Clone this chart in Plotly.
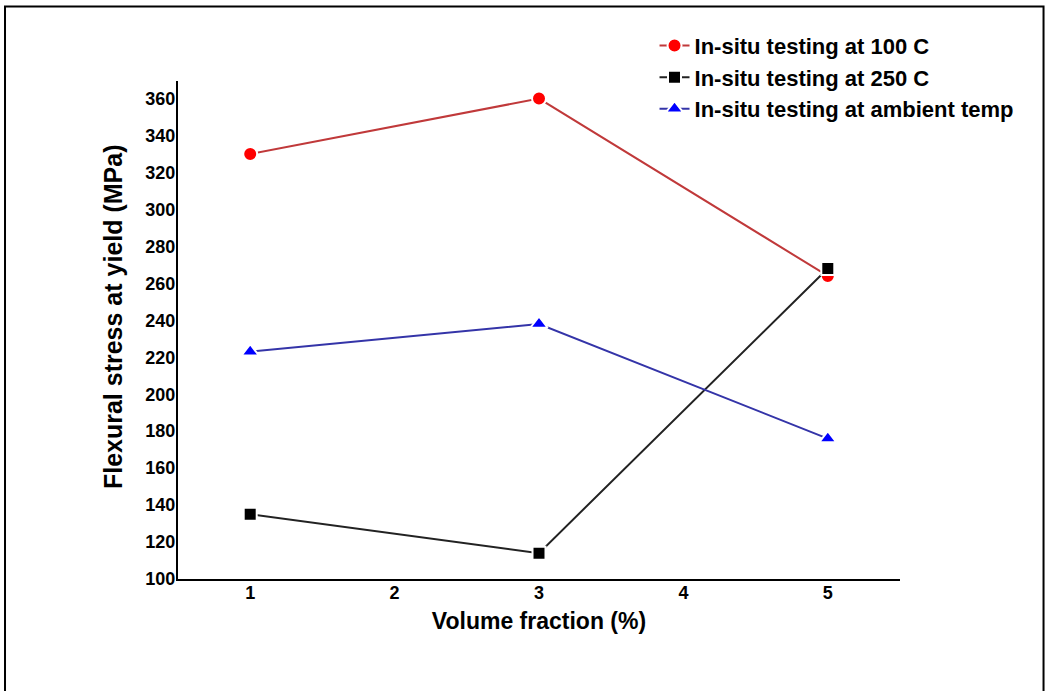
import plotly.graph_objects as go

volume_fraction = [1, 3, 5]
stress_100C = [330, 360, 264]
stress_250C = [135, 114, 268]
stress_ambient = [223, 238, 176]

series_names = ["In-situ testing at 100 C", "In-situ testing at 250 C", "In-situ testing at ambient temp"]
x_ticks = [1, 2, 3, 4, 5]
y_ticks = list(range(100, 361, 20))

FONT = "Liberation Sans, Arial, sans-serif"

fig = go.Figure()
fig.add_trace(go.Scatter(
    x=volume_fraction, y=stress_100C, name=series_names[0], mode="lines+markers",
    line=dict(color="#c0393a", width=2),
    marker=dict(symbol="circle", size=14, color="#ff0000", line=dict(color="white", width=2)),
))
fig.add_trace(go.Scatter(
    x=volume_fraction, y=stress_250C, name=series_names[1], mode="lines+markers",
    line=dict(color="#222222", width=2),
    marker=dict(symbol="square", size=13, color="#000000", line=dict(color="white", width=2)),
))
fig.add_trace(go.Scatter(
    x=volume_fraction, y=stress_ambient, name=series_names[2], mode="lines+markers",
    line=dict(color="#3434a8", width=2),
    marker=dict(symbol="triangle-up", size=15, color="#0000ff", line=dict(color="white", width=2)),
))

fig.update_layout(
    width=1046, height=691,
    margin=dict(l=178, r=146, t=81, b=112),
    paper_bgcolor="white", plot_bgcolor="white",
    font=dict(family=FONT, color="black"),
    showlegend=True,
    legend=dict(
        x=0.66, y=1.113, xanchor="left", yanchor="top",
        font=dict(family=FONT, size=22, color="black", weight="bold"),
        bgcolor="rgba(0,0,0,0)", itemwidth=30, tracegroupgap=0,
    ),
    xaxis=dict(
        range=[0.5, 5.5], tickmode="array", tickvals=x_ticks,
        showgrid=False, zeroline=False, showline=True, linecolor="black", linewidth=2,
        ticks="", ticklabelstandoff=-4,
        tickfont=dict(family=FONT, size=18, color="black", weight="bold"),
        title=dict(text="Volume fraction (%)", standoff=11,
                   font=dict(family=FONT, size=23, color="black", weight="bold")),
    ),
    yaxis=dict(
        range=[100, 369.5], tickmode="array", tickvals=y_ticks,
        showgrid=False, zeroline=False, showline=True, linecolor="black", linewidth=2,
        ticks="", ticklabelstandoff=-3,
        tickfont=dict(family=FONT, size=18, color="black", weight="bold"),
    ),
    annotations=[
        dict(text="Flexural stress at yield (MPa)", xref="paper", yref="paper",
             x=-0.09, y=0.526, xanchor="center", yanchor="middle", textangle=-90,
             showarrow=False, font=dict(family=FONT, size=25, color="black", weight="bold")),
    ],
    shapes=[
        dict(type="rect", xref="paper", yref="paper",
             x0=-0.2396, x1=1.1988, y0=-0.35, y1=1.1496,
             line=dict(color="black", width=2), fillcolor="rgba(0,0,0,0)", layer="below"),
    ],
)

fig.write_html("out.html")
